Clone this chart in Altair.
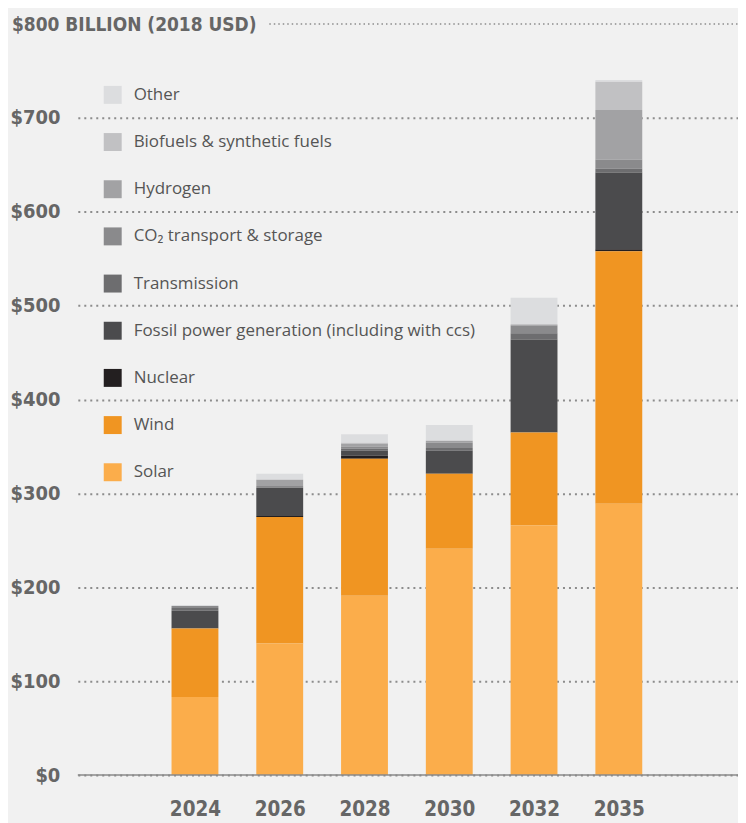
import altair as alt
import pandas as pd

years = ["2024", "2026", "2028", "2030", "2032", "2035"]
categories = [
    "Other",
    "Biofuels & synthetic fuels",
    "Hydrogen",
    "CO₂ transport & storage",
    "Transmission",
    "Fossil power generation (including with ccs)",
    "Nuclear",
    "Wind",
    "Solar",
]
colors = ["#dcdddf", "#c1c1c3", "#a2a2a4", "#8a8a8c", "#6d6d6f",
          "#4b4b4d", "#231f20", "#f09522", "#fbad4b"]

solar = [83, 140, 191, 241, 266, 289]
wind = [73, 135, 146, 80, 99, 269]
nuclear = [0, 1, 3, 0, 0, 2]
fossil = [19, 30, 5.5, 24.5, 99, 82]
transmission = [3, 0, 2, 3, 6.5, 4]
co2 = [2, 2, 2.5, 5.5, 8.5, 9.5]
hydrogen = [0, 6.5, 3, 2, 1, 53]
biofuels = [0, 0, 1, 0, 0, 30]
other = [1, 6.5, 9, 17, 28.5, 2]

series = [other, biofuels, hydrogen, co2, transmission, fossil, nuclear, wind, solar]

rows = []
for ci, (cat, vals) in enumerate(zip(categories, series)):
    for i, v in enumerate(vals):
        rows.append({"i": i, "year": years[i], "cat": cat, "value": v,
                     "ord": len(categories) - 1 - ci})
df = pd.DataFrame(rows)

title_text = "$800 BILLION (2018 USD)"
label_font = "DejaVu Sans Condensed"
axis_color = "#666666"

xscale = alt.Scale(domain=[-1.382, 6.406], nice=False, zero=False, padding=0)
yscale = alt.Scale(domain=[0, 800], nice=False)

year_expr = "[" + ",".join("'" + y + "'" for y in years) + "][datum.value]"

yaxis = alt.Axis(values=[0, 100, 200, 300, 400, 500, 600, 700],
                 labelExpr="'$' + datum.value", title=None,
                 ticks=False, domain=False, grid=True,
                 gridDash=[2, 4], gridColor="#8c8c8c", gridWidth=2,
                 labelFont=label_font, labelFontWeight="bold",
                 labelFontSize=20, labelColor=axis_color,
                 labelPadding=18)

bars = alt.Chart(df).mark_bar(size=47).encode(
    x=alt.X("i:Q", scale=xscale,
            axis=alt.Axis(values=list(range(len(years))), labelExpr=year_expr,
                          title=None, ticks=False, domain=False, grid=False,
                          labelFont=label_font, labelFontWeight="bold",
                          labelFontSize=20.5, labelColor=axis_color,
                          labelPadding=25)),
    y=alt.Y("sum(value):Q", scale=yscale, stack="zero", axis=yaxis),
    color=alt.Color("cat:N", scale=alt.Scale(domain=categories, range=colors),
                    legend=alt.Legend(title=None)),
    order=alt.Order("ord:Q", sort="ascending"),
)

top_df = pd.DataFrame({"v": [800], "t": [title_text]})
title_mark = alt.Chart(top_df).mark_text(
    align="left", baseline="middle", font=label_font, fontWeight="bold",
    fontSize=19, color=axis_color, dy=1,
).encode(x=alt.value(-66), y=alt.Y("v:Q", scale=yscale, axis=yaxis), text="t:N")

top_rule = alt.Chart(top_df).mark_rule(
    strokeDash=[1.5, 3], color="#8c8c8c", strokeWidth=1.5,
).encode(x=alt.value(192), x2=alt.value(662), y=alt.Y("v:Q", scale=yscale, axis=yaxis))

base_df = pd.DataFrame({"v": [0]})
base_rule = alt.Chart(base_df).mark_rule(color="#8a8a8a", strokeWidth=1.5).encode(
    x=alt.value(0), x2=alt.value(662), y=alt.Y("v:Q", scale=yscale, axis=yaxis))

chart = alt.layer(bars, base_rule, top_rule, title_mark).properties(
    width=662, height=753,
    autosize=alt.AutoSizeParams(type="none"),
    padding={"left": 70, "top": 15, "right": 0, "bottom": 50},
    background="#f1f1f1",
).configure_view(stroke=None).configure_legend(
    orient="none", legendX=26, legendY=62, symbolType="square",
    symbolSize=324, symbolStrokeWidth=0, labelFontSize=17, labelFont="Open Sans",
    labelColor="#555555", rowPadding=29.3, labelOffset=12, labelLimit=600,
    padding=0, offset=0,
)

chart.save("out.html", embed_options={"renderer": "svg", "actions": False})
